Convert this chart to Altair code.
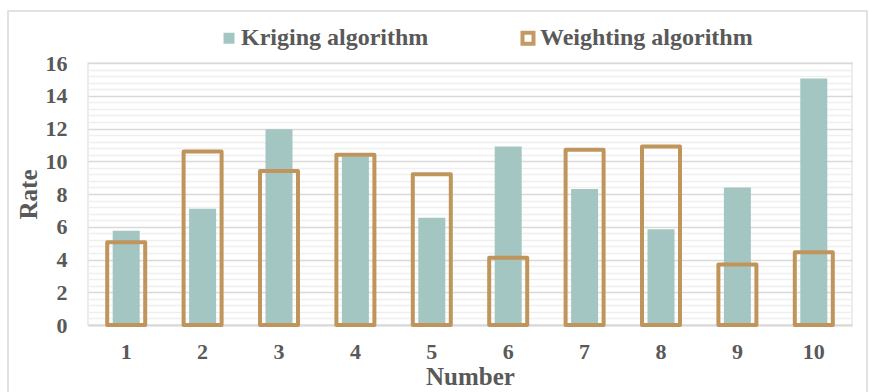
import altair as alt
import pandas as pd

# Rate per sample number for the two interpolation algorithms
numbers = [1, 2, 3, 4, 5, 6, 7, 8, 9, 10]
kriging = [5.75, 7.1, 11.95, 10.3, 6.55, 10.9, 8.3, 5.85, 8.4, 15.05]
weighting = [5.05, 10.6, 9.4, 10.4, 9.2, 4.1, 10.7, 10.9, 3.7, 4.45]
series_names = ["Kriging algorithm", "Weighting algorithm"]

FONT = "Liberation Serif"
TEXT = "#595959"
TEAL = "#a0c4bf"
GOLD = "#c0955c"

df = pd.DataFrame(
    {
        "Number": numbers * 2,
        "Rate": kriging + weighting,
        "Series": [series_names[0]] * len(numbers) + [series_names[1]] * len(numbers),
    }
)

# y grid: light lines every 0.4, darker lines on the labelled even values
grid_values = [round(i * 0.4, 1) for i in range(41)]

fill_scale = alt.Scale(domain=series_names, range=[TEAL, "transparent"])
stroke_scale = alt.Scale(domain=series_names, range=["transparent", GOLD])

x_enc = alt.X(
    "Number:O",
    title="Number",
    axis=alt.Axis(
        labelAngle=0,
        labelFont=FONT,
        labelFontSize=22,
        labelFontWeight="bold",
        labelColor=TEXT,
        labelPadding=16,
        ticks=False,
        domainColor="#d9d9d9",
        domainWidth=2,
        titleFont=FONT,
        titleFontSize=25,
        titleFontWeight="bold",
        titleColor=TEXT,
        titlePadding=2,
    ),
)
y_enc = alt.Y(
    "Rate:Q",
    title="Rate",
    scale=alt.Scale(domain=[0, 16], nice=False),
    axis=alt.Axis(
        values=grid_values,
        labelExpr="datum.value % 2 === 0 ? format(datum.value, 'd') : ''",
        labelOverlap=False,
        labelFont=FONT,
        labelFontSize=22,
        labelFontWeight="bold",
        labelColor=TEXT,
        labelPadding=21,
        ticks=False,
        domain=False,
        grid=True,
        gridColor={
            "condition": {"test": "datum.value % 2 === 0", "value": "#d9d9d9"},
            "value": "#efefef",
        },
        gridWidth=1.6,
        titleFont=FONT,
        titleFontSize=25,
        titleFontWeight="bold",
        titleColor=TEXT,
        titlePadding=4,
    ),
)

legend = alt.Legend(
    title=None,
    orient="none",
    direction="horizontal",
    legendX=129,
    legendY=-37,
    symbolType="square",
    symbolSize=121,
    symbolStrokeWidth=4,
    labelFont=FONT,
    labelFontSize=24,
    labelFontWeight="bold",
    labelColor=TEXT,
    labelOffset=0,
    labelLimit=400,
    columnPadding=85,
    padding=0,
)

# page frame around the whole figure
frame = (
    alt.Chart(pd.DataFrame({"k": [0]}))
    .mark_rect(fill="transparent", stroke="#d9d9d9", strokeWidth=1.5)
    .encode(x=alt.value(-80), x2=alt.value(779), y=alt.value(-52), y2=alt.value(400))
)

kriging_bars = (
    alt.Chart(df)
    .transform_filter(alt.datum.Series == series_names[0])
    .mark_bar(size=27, opacity=0.95)
    .encode(
        x=x_enc,
        y=y_enc,
        fill=alt.Fill("Series:N", scale=fill_scale, legend=legend),
        stroke=alt.Stroke("Series:N", scale=stroke_scale, legend=legend),
    )
)

weighting_bars = (
    alt.Chart(df)
    .transform_filter(alt.datum.Series == series_names[1])
    .mark_bar(size=38, strokeWidth=4, strokeJoin="round")
    .encode(
        x=x_enc,
        y=y_enc,
        fill=alt.Fill("Series:N", scale=fill_scale, legend=legend),
        stroke=alt.Stroke("Series:N", scale=stroke_scale, legend=legend),
    )
)

chart = (
    alt.layer(frame, kriging_bars, weighting_bars)
    .properties(
        width=764,
        height=262,
        autosize=alt.AutoSizeParams(type="none"),
        padding={"left": 88, "top": 63, "right": 17, "bottom": 67},
        background="white",
    )
    .configure_view(stroke="#e6e6e6", strokeWidth=1.5)
)

chart.save("out.html", embed_options={"renderer": "svg", "actions": False})
